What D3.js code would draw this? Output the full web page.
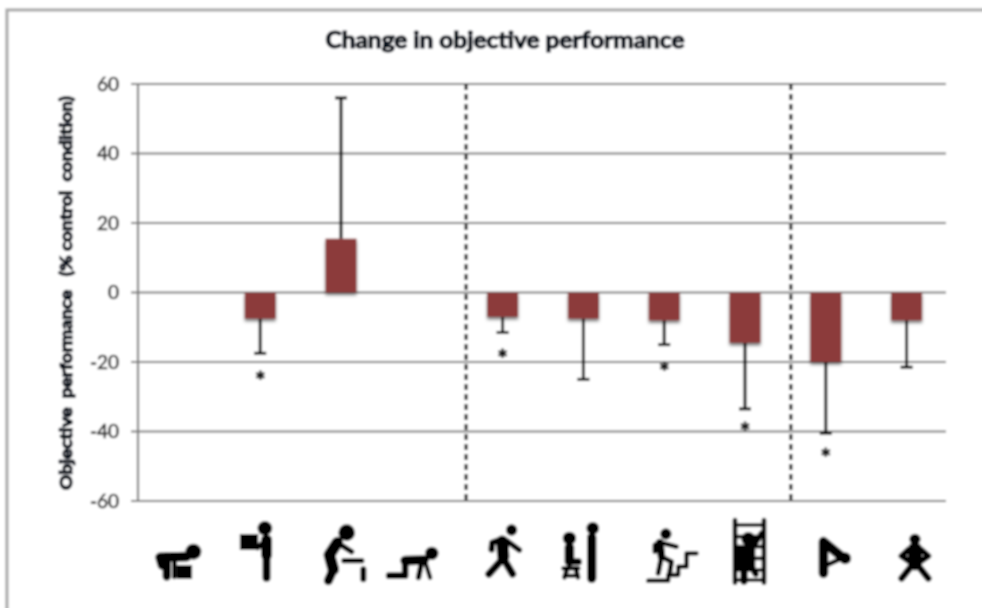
<!DOCTYPE html>
<html>
<head>
<meta charset="utf-8">
<script src="https://cdn.jsdelivr.net/npm/d3@7"></script>
<style>
  html, body { margin: 0; padding: 0; background: #fff; }
  svg { display: block; }
</style>
</head>
<body>
<div id="chart"></div>
<script>
const categories = ["bent", "lift", "push", "crawl", "walk", "sitstand", "stairs", "ladder", "bend", "squat"];
const barValues = [null, -7.5, 15.5, null, -7, -7.5, -8, -14.5, -20, -8];
const errorEnds = [null, -17.5, 56, null, -11.5, -25, -15, -33.5, -40.5, -21.5];
const starValues = [null, -23.7, null, null, -17.4, null, -21, -38.3, -45.8, null];
const yTicks = [60, 40, 20, 0, -20, -40, -60];
const dividers = [4.06, 8.08];

// pictograms, drawn in 3x units around each category centre
const icons = {
    bent: [
        {c: [45, 125, 22]},
        {l: [[-48, 165], [-55, 142], [25, 140]], w: 24},
        {l: [[-35, 140], [-35, 200]], w: 20},
        {l: [[-12, 140], [-12, 200]], w: 10},
        {r: [-4, 165, 45, 42]}
    ],
    lift: [
        {c: [17, 55, 20]},
        {r: [-58, 72, 55, 48]},
        {l: [[22, 90], [22, 135]], w: 28},
        {l: [[22, 130], [22, 203]], w: 19},
        {l: [[22, 92], [-5, 112]], w: 13}
    ],
    push: [
        {c: [20, 68, 23]},
        {l: [[-8, 98], [-32, 135], [-20, 178]], w: 30},
        {l: [[-20, 178], [-35, 212]], w: 22},
        {l: [[-5, 100], [35, 125]], w: 11},
        {l: [[12, 152], [65, 152]], w: 11},
        {l: [[70, 178], [70, 208]], w: 13}
    ],
    crawl: [
        {c: [33, 130, 18]},
        {l: [[-47, 152], [10, 150]], w: 24},
        {l: [[-47, 150], [-47, 197], [-95, 197]], w: 15},
        {l: [[3, 155], [-7, 203]], w: 11},
        {l: [[13, 155], [28, 203]], w: 8}
    ],
    walk: [
        {c: [30, 60, 15]},
        {l: [[2, 95], [5, 140]], w: 32},
        {l: [[5, 145], [-38, 192]], w: 17},
        {l: [[5, 145], [33, 192]], w: 17},
        {l: [[-5, 90], [-28, 98], [-30, 118]], w: 14},
        {l: [[15, 92], [53, 120]], w: 12}
    ],
    sitstand: [
        {c: [-39, 85, 18]},
        {l: [[-39, 112], [-39, 155]], w: 24},
        {l: [[-39, 155], [-12, 155]], w: 16},
        {l: [[-57, 175], [-12, 175]], w: 8},
        {l: [[-54, 202], [-45, 175]], w: 9},
        {l: [[-13, 202], [-20, 175]], w: 9},
        {l: [[-52, 197], [-15, 197]], w: 7},
        {c: [31, 55, 17]},
        {l: [[28, 82], [28, 205]], w: 23}
    ],
    stairs: [
        {c: [8, 72, 15]},
        {l: [[-45, 212], [15, 212], [15, 195], [45, 195], [45, 170], [70, 170], [70, 130], [100, 130]], w: 8},
        {l: [[-10, 98], [-5, 140]], w: 18},
        {l: [[-10, 95], [-25, 105], [-25, 125]], w: 9},
        {l: [[-5, 98], [40, 110]], w: 9},
        {l: [[-5, 140], [-15, 190]], w: 10},
        {l: [[-5, 140], [25, 155], [20, 185]], w: 10}
    ],
    ladder: [
        {l: [[-27, 30], [-27, 218]], w: 9},
        {l: [[60, 30], [60, 218]], w: 9},
        {l: [[-27, 45], [60, 45]], w: 6},
        {l: [[-27, 80], [60, 80]], w: 6},
        {l: [[-27, 110], [60, 110]], w: 6},
        {l: [[-27, 145], [60, 145]], w: 6},
        {l: [[-27, 180], [60, 180]], w: 6},
        {l: [[-27, 210], [60, 210]], w: 6},
        {c: [13, 87, 19]},
        {r: [-24, 106, 58, 74]},
        {l: [[28, 108], [53, 70]], w: 13},
        {l: [[0, 175], [0, 213]], w: 17},
        {l: [[25, 175], [35, 192]], w: 14}
    ],
    bend: [
        {l: [[-4, 190], [-4, 95], [51, 140]], w: 24},
        {l: [[-4, 170], [50, 145]], w: 9},
        {c: [61, 145, 16]}
    ],
    squat: [
        {c: [28, 88, 15]},
        {l: [[28, 118], [28, 160]], w: 38},
        {l: [[10, 118], [-12, 138], [13, 155]], w: 13},
        {l: [[45, 118], [68, 138], [43, 155]], w: 13},
        {l: [[24, 160], [-12, 205]], w: 15},
        {l: [[32, 160], [68, 205]], w: 15}
    ]
};

const width = 982, height = 608;
const margin = {top: 84, right: 36, bottom: 107, left: 138};

const svg = d3.select("#chart").append("svg")
    .attr("width", width)
    .attr("height", height);

const defs = svg.append("defs");
defs.append("filter").attr("id", "soft")
    .attr("x", "-5%").attr("y", "-5%").attr("width", "110%").attr("height", "110%")
    .append("feGaussianBlur").attr("stdDeviation", 0.8);
const shadow = defs.append("filter").attr("id", "barShadow")
    .attr("x", "-30%").attr("y", "-30%").attr("width", "160%").attr("height", "160%");
shadow.append("feDropShadow")
    .attr("dx", 0).attr("dy", 2.5).attr("stdDeviation", 1.8)
    .attr("flood-color", "#000").attr("flood-opacity", 0.55);

const root = svg.append("g").attr("filter", "url(#soft)");

root.append("rect")
    .attr("x", 7).attr("y", 10)
    .attr("width", 990).attr("height", 620)
    .attr("fill", "#fff")
    .attr("stroke", "#a8a8a8")
    .attr("stroke-width", 3);

const x = d3.scaleBand()
    .domain(categories)
    .range([margin.left + 1, width - margin.right + 1]);
const xPos = d3.scaleLinear()
    .domain([0, categories.length])
    .range([margin.left, width - margin.right]);
const y = d3.scaleLinear()
    .domain([-60, 60])
    .range([height - margin.bottom, margin.top]);
const barWidth = 31;

// gridlines and left axis
root.append("g").selectAll("line")
    .data(yTicks)
    .join("line")
    .attr("x1", margin.left - 7)
    .attr("x2", width - margin.right)
    .attr("y1", d => y(d))
    .attr("y2", d => y(d))
    .attr("stroke", "#7a7a7a")
    .attr("stroke-width", 2.2);

root.append("line")
    .attr("x1", margin.left).attr("x2", margin.left)
    .attr("y1", y(60)).attr("y2", y(-60))
    .attr("stroke", "#7a7a7a")
    .attr("stroke-width", 2.2);

root.append("g").selectAll("text")
    .data(yTicks)
    .join("text")
    .attr("x", margin.left - 19)
    .attr("y", d => y(d))
    .attr("dy", "0.36em")
    .attr("text-anchor", "end")
    .attr("font-family", "Lato, sans-serif")
    .attr("font-size", 19)
    .attr("font-weight", 400)
    .attr("fill", "#2b2b2b")
    .attr("stroke", "#2b2b2b")
    .attr("stroke-width", 0.6)
    .text(d => d);

// dashed separators
root.append("g").selectAll("line")
    .data(dividers)
    .join("line")
    .attr("x1", d => xPos(d))
    .attr("x2", d => xPos(d))
    .attr("y1", y(60))
    .attr("y2", y(-60))
    .attr("stroke", "#000")
    .attr("stroke-width", 3)
    .attr("stroke-dasharray", "6,4");

const barData = categories.map((c, i) => ({
    c, value: barValues[i], end: errorEnds[i], star: starValues[i]
}));

// error bars
const errs = root.append("g").selectAll("g")
    .data(barData.filter(d => d.end !== null))
    .join("g");
errs.append("line")
    .attr("x1", d => x(d.c) + x.bandwidth() / 2)
    .attr("x2", d => x(d.c) + x.bandwidth() / 2)
    .attr("y1", d => y(d.value))
    .attr("y2", d => y(d.end))
    .attr("stroke", "#000")
    .attr("stroke-width", 3);
errs.append("line")
    .attr("x1", d => x(d.c) + x.bandwidth() / 2 - 6)
    .attr("x2", d => x(d.c) + x.bandwidth() / 2 + 6)
    .attr("y1", d => y(d.end))
    .attr("y2", d => y(d.end))
    .attr("stroke", "#000")
    .attr("stroke-width", 3);

// bars
root.append("g").selectAll("rect")
    .data(barData.filter(d => d.value !== null))
    .join("rect")
    .attr("x", d => x(d.c) + x.bandwidth() / 2 - barWidth / 2)
    .attr("y", d => Math.min(y(d.value), y(0)))
    .attr("width", barWidth)
    .attr("height", d => Math.abs(y(d.value) - y(0)))
    .attr("fill", "#8c3a3a")
    .attr("filter", "url(#barShadow)");

// significance stars
root.append("g").selectAll("text")
    .data(barData.filter(d => d.star !== null))
    .join("text")
    .attr("x", d => x(d.c) + x.bandwidth() / 2)
    .attr("y", d => y(d.star))
    .attr("dy", "0.62em")
    .attr("text-anchor", "middle")
    .attr("font-family", "Lato, sans-serif")
    .attr("font-size", 25)
    .attr("font-weight", 900)
    .attr("fill", "#111")
    .attr("stroke", "#111")
    .attr("stroke-width", 0.8)
    .text("*");

root.append("text")
    .attr("x", 505)
    .attr("y", 48)
    .attr("text-anchor", "middle")
    .attr("font-family", "Lato, sans-serif")
    .attr("font-size", 23)
    .attr("font-weight", 700)
    .attr("fill", "#050a18")
    .attr("stroke", "#050a18")
    .attr("stroke-width", 1.2)
    .attr("textLength", 359)
    .attr("lengthAdjust", "spacingAndGlyphs")
    .text("Change in objective performance");

root.append("text")
    .attr("transform", "translate(72,293) rotate(-90)")
    .attr("text-anchor", "middle")
    .attr("font-family", "Lato, sans-serif")
    .attr("font-size", 17)
    .attr("font-weight", 900)
    .attr("fill", "#050a18")
    .attr("stroke", "#050a18")
    .attr("stroke-width", 1.1)
    .attr("textLength", 394)
    .attr("lengthAdjust", "spacingAndGlyphs")
    .style("white-space", "pre")
    .text("Objective  performance   (% control  condition)");

// pictograms under each category
const line = d3.line();
const iconGroups = root.append("g").selectAll("g")
    .data(categories)
    .join("g")
    .attr("transform", (d, i) => `translate(${xPos(i + 0.5)},510) scale(${1 / 3})`);
iconGroups.each(function(d) {
    const g = d3.select(this);
    icons[d].forEach(s => {
        if (s.c) {
            g.append("circle").attr("cx", s.c[0]).attr("cy", s.c[1]).attr("r", s.c[2] + 2).attr("fill", "#000");
        } else if (s.r) {
            g.append("rect").attr("x", s.r[0]).attr("y", s.r[1]).attr("width", s.r[2]).attr("height", s.r[3]).attr("fill", "#000");
        } else {
            g.append("path").attr("d", line(s.l))
                .attr("fill", "none")
                .attr("stroke", "#000")
                .attr("stroke-width", s.w + 5)
                .attr("stroke-linejoin", "round")
                .attr("stroke-linecap", "round");
        }
    });
});
</script>
</body>
</html>
